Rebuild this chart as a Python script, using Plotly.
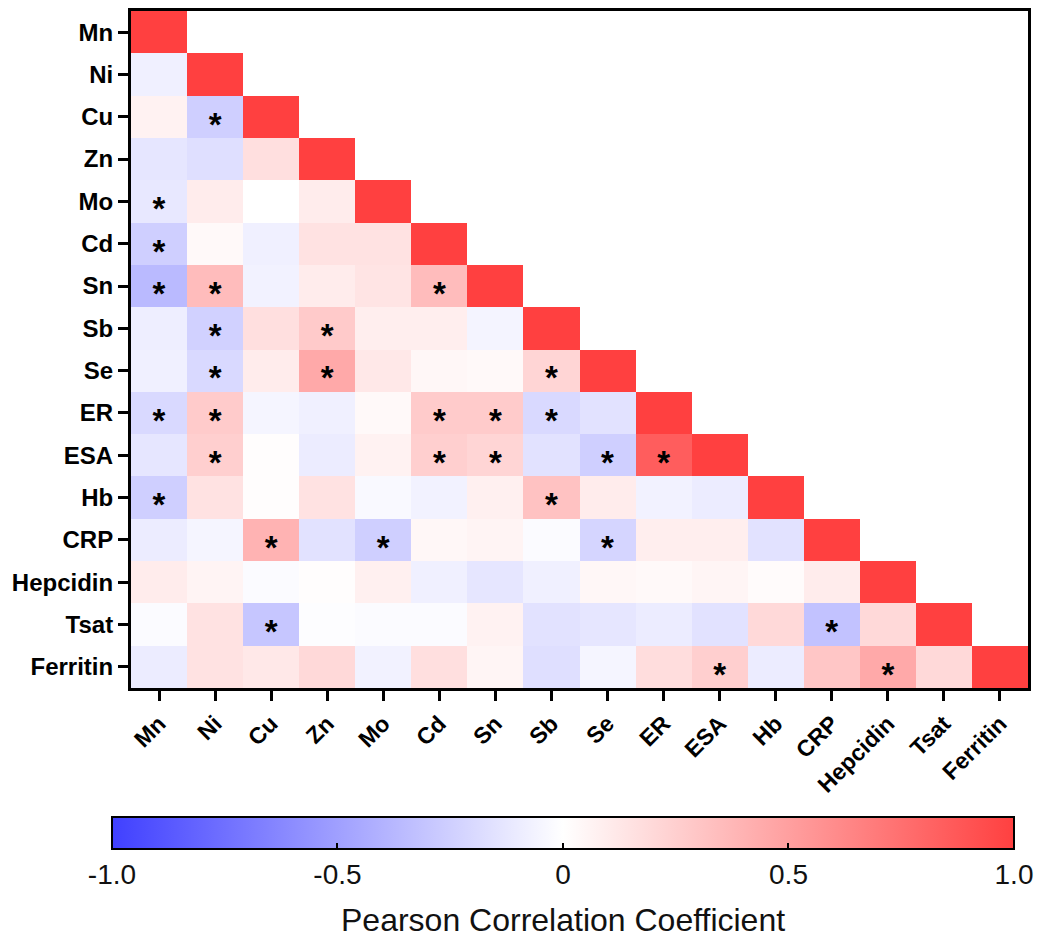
import plotly.graph_objects as go

labels = ["Mn", "Ni", "Cu", "Zn", "Mo", "Cd", "Sn", "Sb", "Se", "ER", "ESA",
          "Hb", "CRP", "Hepcidin", "Tsat", "Ferritin"]

# Lower-triangle correlation rows (row variable vs. columns Mn..row itself)
row_Mn = [1.0]
row_Ni = [-0.08, 1.0]
row_Cu = [0.07, -0.25, 1.0]
row_Zn = [-0.13, -0.17, 0.17, 1.0]
row_Mo = [-0.12, 0.10, 0.0, 0.10, 1.0]
row_Cd = [-0.25, 0.03, -0.08, 0.15, 0.15, 1.0]
row_Sn = [-0.36, 0.35, -0.07, 0.10, 0.14, 0.35, 1.0]
row_Sb = [-0.09, -0.24, 0.17, 0.28, 0.09, 0.09, -0.06, 1.0]
row_Se = [-0.08, -0.20, 0.10, 0.45, 0.12, 0.04, 0.03, 0.22, 1.0]
row_ER = [-0.20, 0.27, -0.05, -0.08, 0.03, 0.27, 0.27, -0.20, -0.15, 1.0]
row_ESA = [-0.13, 0.25, 0.01, -0.10, 0.07, 0.25, 0.22, -0.15, -0.25, 0.85, 1.0]
row_Hb = [-0.25, 0.15, 0.01, 0.15, -0.03, -0.07, 0.08, 0.32, 0.10, -0.07, -0.10, 1.0]
row_CRP = [-0.10, -0.05, 0.40, -0.15, -0.25, 0.04, 0.06, -0.02, -0.22, 0.09, 0.09,
           -0.15, 1.0]
row_Hepcidin = [0.10, 0.06, -0.02, 0.01, 0.08, -0.08, -0.13, -0.08, 0.04, 0.03, 0.05,
                0.02, 0.10, 1.0]
row_Tsat = [-0.02, 0.15, -0.30, -0.01, -0.02, -0.02, 0.07, -0.15, -0.13, -0.10, -0.15,
            0.20, -0.32, 0.20, 1.0]
row_Ferritin = [-0.10, 0.15, 0.12, 0.20, -0.07, 0.17, 0.05, -0.17, -0.05, 0.18, 0.25,
                -0.10, 0.30, 0.45, 0.20, 1.0]

rows = [row_Mn, row_Ni, row_Cu, row_Zn, row_Mo, row_Cd, row_Sn, row_Sb, row_Se,
        row_ER, row_ESA, row_Hb, row_CRP, row_Hepcidin, row_Tsat, row_Ferritin]

# Significant pairs (row, column)
significant = [
    ("Cu", "Ni"), ("Mo", "Mn"), ("Cd", "Mn"), ("Sn", "Mn"), ("Sn", "Ni"), ("Sn", "Cd"),
    ("Sb", "Ni"), ("Sb", "Zn"), ("Se", "Ni"), ("Se", "Zn"), ("Se", "Sb"),
    ("ER", "Mn"), ("ER", "Ni"), ("ER", "Cd"), ("ER", "Sn"), ("ER", "Sb"),
    ("ESA", "Ni"), ("ESA", "Cd"), ("ESA", "Sn"), ("ESA", "Se"), ("ESA", "ER"),
    ("Hb", "Mn"), ("Hb", "Sb"), ("CRP", "Cu"), ("CRP", "Mo"), ("CRP", "Se"),
    ("Tsat", "Cu"), ("Tsat", "CRP"), ("Ferritin", "ESA"), ("Ferritin", "Hepcidin"),
]

cb_tickvals = [-1.0, -0.5, 0.0, 0.5, 1.0]
cb_ticktext = ["-1.0", "-0.5", "0", "0.5", "1.0"]
cb_title = "Pearson Correlation Coefficient"

n = len(labels)
idx = list(range(n))
z = [list(r) + [None] * (n - len(r)) for r in rows]

# asterisk positions from the significant pairs (slightly below cell centre)
star_x = [labels.index(c) for (r, c) in significant]
star_y = [labels.index(r) + 0.25 for (r, c) in significant]

fig = go.Figure()
fig.add_trace(go.Heatmap(
    z=z, x=idx, y=idx,
    zmin=-1, zmax=1,
    colorscale=[[0, "#4040FF"], [0.5, "#FFFFFF"], [1, "#FF4040"]],
    hoverongaps=False,
    colorbar=dict(
        orientation="h", x=0.4816, xanchor="center", y=-0.1905, yanchor="top",
        ypad=0, len=1.028, lenmode="fraction", thickness=32,
        outlinewidth=2, outlinecolor="black",
        tickvals=cb_tickvals, ticktext=cb_ticktext,
        ticks="inside", ticklen=7, tickwidth=2, tickcolor="black",
        tickfont=dict(size=28, color="#111", family="Liberation Sans"),
    ),
))
fig.add_trace(go.Scatter(
    x=star_x, y=star_y, mode="text", text=["*"] * len(star_x),
    textposition="middle center", hoverinfo="skip", showlegend=False,
    textfont=dict(size=33, color="black", family="Liberation Sans", weight="bold"),
))

fig.add_annotation(
    text=cb_title, xref="paper", yref="paper", x=0.4816, y=-0.3427,
    xanchor="center", yanchor="middle", showarrow=False,
    font=dict(size=32, color="#111", family="Liberation Sans"),
)

fig.update_xaxes(
    range=[-0.5, n - 0.5], tickvals=idx, ticktext=labels,
    showline=True, linewidth=3, linecolor="black", mirror=True,
    ticks="outside", ticklen=10, tickwidth=3, tickcolor="black",
    tickangle=-45, tickfont=dict(size=23, color="black", family="Liberation Sans",
                                 weight="bold"),
    showgrid=False, zeroline=False,
)
fig.update_yaxes(
    range=[n - 0.5, -0.5], tickvals=idx, ticktext=labels,
    showline=True, linewidth=3, linecolor="black", mirror=True,
    ticks="outside", ticklen=10, tickwidth=3, tickcolor="black",
    tickfont=dict(size=24, color="black", family="Liberation Sans", weight="bold"),
    showgrid=False, zeroline=False,
)
fig.update_layout(
    width=1047, height=944,
    margin=dict(l=123, r=27, t=3, b=264, autoexpand=False),
    plot_bgcolor="white", paper_bgcolor="white",
)
fig.write_html("out.html")
